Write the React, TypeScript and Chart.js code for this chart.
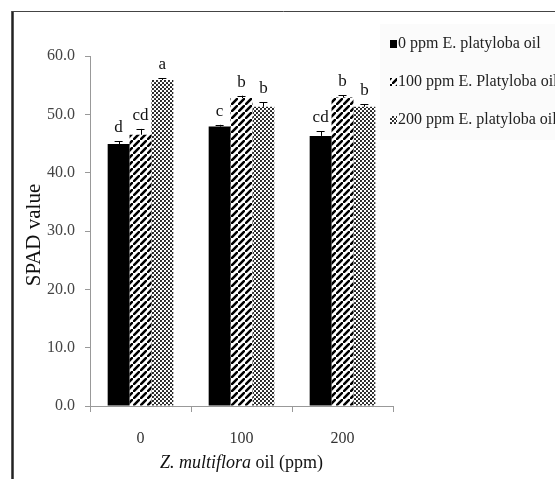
import React, { useEffect, useRef } from 'react';
import { Chart, registerables } from 'chart.js';

Chart.register(...registerables);

const categories = ['0', '100', '200'];
const seriesNames = ['0 ppm E. platyloba oil', '100 ppm E. Platyloba oil', '200 ppm E. platyloba oil'];
const spad0 = [44.9, 47.9, 46.3];
const spad100 = [46.5, 52.8, 52.9];
const spad200 = [55.9, 51.3, 51.3];
const err0 = [0.5, 0.3, 0.8];
const err100 = [1.0, 0.4, 0.4];
const err200 = [0.3, 0.8, 0.4];
const letters0 = ['d', 'c', 'cd'];
const letters100 = ['cd', 'b', 'b'];
const letters200 = ['a', 'b', 'b'];
const yMin = 0;
const yMax = 60;
const yStep = 10;
const yTitle = 'SPAD value';
const xTitleItalic = 'Z. multiflora';
const xTitleRest = ' oil (ppm)';

const SERIF = '"Liberation Serif", "DejaVu Serif", serif';

function makeHatch(): CanvasPattern | string {
  const n = 7;
  const c = document.createElement('canvas');
  c.width = n;
  c.height = n;
  const g = c.getContext('2d');
  if (!g) return '#000';
  g.fillStyle = '#fff';
  g.fillRect(0, 0, n, n);
  g.strokeStyle = '#000';
  g.lineWidth = 2.6;
  g.beginPath();
  g.moveTo(-1, n + 1);
  g.lineTo(n + 1, -1);
  g.moveTo(-n - 1, 1);
  g.lineTo(1, -n - 1);
  g.moveTo(n - 1, 2 * n + 1);
  g.lineTo(2 * n + 1, n - 1);
  g.stroke();
  return g.createPattern(c, 'repeat') || '#000';
}

function makeDots(): CanvasPattern | string {
  const c = document.createElement('canvas');
  c.width = 4;
  c.height = 4;
  const g = c.getContext('2d');
  if (!g) return '#888';
  g.fillStyle = '#fff';
  g.fillRect(0, 0, 4, 4);
  g.fillStyle = '#111';
  g.beginPath();
  g.arc(1, 1, 1.05, 0, Math.PI * 2);
  g.fill();
  g.beginPath();
  g.arc(3, 3, 1.05, 0, Math.PI * 2);
  g.fill();
  return g.createPattern(c, 'repeat') || '#888';
}

export default function App() {
  const ref = useRef<HTMLCanvasElement | null>(null);

  useEffect(() => {
    const canvas = ref.current;
    if (!canvas) return;
    const hatch = makeHatch();
    const dots = makeDots();
    const fills = ['#000', hatch, dots];
    const errs = [err0, err100, err200];
    const letters = [letters0, letters100, letters200];

    const decor = {
      id: 'decor',
      beforeDraw(chart: any) {
        const ctx = chart.ctx;
        ctx.save();
        ctx.fillStyle = '#fff';
        ctx.fillRect(0, 0, chart.width, chart.height);
        ctx.fillStyle = '#fbfbfb';
        ctx.fillRect(380, 24, chart.width - 380, 116);
        ctx.strokeStyle = '#222';
        ctx.lineWidth = 2.5;
        ctx.beginPath();
        ctx.moveTo(12.5, chart.height);
        ctx.lineTo(12.5, 11);
        ctx.stroke();
        ctx.strokeStyle = '#444';
        ctx.lineWidth = 1;
        ctx.beginPath();
        ctx.moveTo(12, 11.5);
        ctx.lineTo(chart.width, 11.5);
        ctx.stroke();
        ctx.restore();
      },
      afterDatasetsDraw(chart: any) {
        const ctx = chart.ctx;
        const y = chart.scales.y;
        ctx.save();
        chart.data.datasets.forEach((ds: any, di: number) => {
          const meta = chart.getDatasetMeta(di);
          meta.data.forEach((bar: any, i: number) => {
            const v = ds.data[i];
            const top = y.getPixelForValue(v + errs[di][i]);
            const base = y.getPixelForValue(v);
            ctx.strokeStyle = '#000';
            ctx.lineWidth = 1;
            ctx.beginPath();
            ctx.moveTo(Math.round(bar.x) + 0.5, base);
            ctx.lineTo(Math.round(bar.x) + 0.5, top);
            ctx.moveTo(bar.x - 4, Math.round(top) + 0.5);
            ctx.lineTo(bar.x + 4, Math.round(top) + 0.5);
            ctx.stroke();
            ctx.fillStyle = '#111';
            ctx.font = `17px ${SERIF}`;
            ctx.textAlign = 'center';
            ctx.textBaseline = 'alphabetic';
            ctx.fillText(letters[di][i], bar.x, top - 9);
          });
        });
        ctx.restore();
      },
      afterDraw(chart: any) {
        const ctx = chart.ctx;
        const area = chart.chartArea;
        ctx.save();
        // legend
        const rows = [44, 82, 120];
        seriesNames.forEach((name, i) => {
          const cy = rows[i];
          ctx.fillStyle = fills[i] as any;
          ctx.fillRect(390, cy - 4, 7, 8);
          ctx.fillStyle = '#222';
          ctx.font = `16px ${SERIF}`;
          ctx.textAlign = 'left';
          ctx.textBaseline = 'middle';
          ctx.fillText(name, 398, cy);
        });
        // y title
        ctx.save();
        ctx.translate(34, (area.top + area.bottom) / 2 + 4);
        ctx.rotate(-Math.PI / 2);
        ctx.fillStyle = '#111';
        ctx.font = `21px ${SERIF}`;
        ctx.textAlign = 'center';
        ctx.textBaseline = 'middle';
        ctx.fillText(yTitle, 0, 0);
        ctx.restore();
        // x title
        const italicFont = `italic 18px ${SERIF}`;
        const normalFont = `18px ${SERIF}`;
        ctx.font = italicFont;
        const w1 = ctx.measureText(xTitleItalic).width;
        ctx.font = normalFont;
        const w2 = ctx.measureText(xTitleRest).width;
        const cx = (area.left + area.right) / 2;
        const sx = cx - (w1 + w2) / 2;
        ctx.textAlign = 'left';
        ctx.textBaseline = 'middle';
        ctx.fillStyle = '#111';
        ctx.font = italicFont;
        ctx.fillText(xTitleItalic, sx, 463);
        ctx.font = normalFont;
        ctx.fillText(xTitleRest, sx + w1, 463);
        ctx.restore();
      },
    };

    const chart = new Chart(canvas, {
      type: 'bar',
      data: {
        labels: categories,
        datasets: [
          { label: seriesNames[0], data: spad0, backgroundColor: fills[0] as any, borderWidth: 0 },
          { label: seriesNames[1], data: spad100, backgroundColor: fills[1] as any, borderWidth: 0 },
          { label: seriesNames[2], data: spad200, backgroundColor: fills[2] as any, borderWidth: 0 },
        ],
      },
      options: {
        responsive: false,
        animation: false,
        devicePixelRatio: 1,
        layout: { padding: { left: 0, right: 162, top: 56, bottom: 0 } },
        datasets: { bar: { categoryPercentage: 0.65, barPercentage: 1.0 } },
        plugins: {
          legend: { display: false },
          tooltip: { enabled: false },
          title: { display: false },
        },
        scales: {
          x: {
            grid: { drawOnChartArea: false, drawTicks: true, tickLength: 6, color: '#999', offset: true },
            border: { display: true, color: '#999' },
            ticks: { font: { family: SERIF, size: 16 }, color: '#333', padding: 17 },
            afterFit: (s: any) => {
              s.height = 73;
            },
          },
          y: {
            min: yMin,
            max: yMax,
            ticks: {
              stepSize: yStep,
              font: { family: SERIF, size: 16 },
              color: '#444',
              padding: 10,
              callback: (v: any) => Number(v).toFixed(1),
            },
            grid: { drawOnChartArea: false, drawTicks: true, tickLength: 5, color: '#999' },
            border: { display: true, color: '#999' },
            afterFit: (s: any) => {
              s.width = 90;
            },
          },
        },
      },
      plugins: [decor],
    });
    return () => chart.destroy();
  }, []);

  return (
    <div style={{ position: 'absolute', left: 0, top: 0, width: 555, height: 479, overflow: 'hidden', background: '#fff' }}>
      <canvas ref={ref} width={555} height={479} style={{ display: 'block', width: 555, height: 479 }} />
    </div>
  );
}
